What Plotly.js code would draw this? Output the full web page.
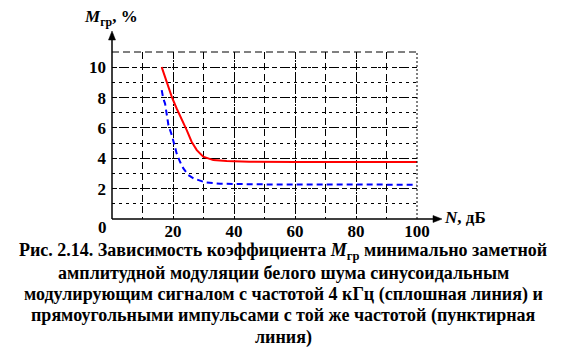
<!DOCTYPE html>
<html><head><meta charset="utf-8">
<script src="https://cdn.plot.ly/plotly-3.0.1.min.js"></script>
<style>html,body{margin:0;padding:0;background:#fff}#c{width:566px;height:361px}</style>
</head><body><div id="c"></div>
<script>
// Data
const redN = [16.3, 17.9, 19.6, 21.2, 22.8, 24.5, 26.1, 27.8, 29.9, 33.2, 37.6, 45, 60, 80, 100];
const redM = [10.0, 9.03, 8.05, 7.28, 6.62, 5.86, 5.09, 4.54, 4.1, 3.88, 3.82, 3.77, 3.75, 3.75, 3.75];
const blueN = [16.3, 16.8, 17.4, 17.9, 18.5, 19.6, 20.1, 21.2, 22.3, 23.4, 25.0, 26.7, 30.5, 35.4, 50, 70, 90, 100];
const blueM = [8.49, 7.94, 7.6, 6.84, 6.18, 5.53, 5.09, 4.32, 3.77, 3.33, 2.9, 2.68, 2.41, 2.32, 2.28, 2.26, 2.26, 2.26];
const xTicks = [20, 40, 60, 80, 100];
const yTicks = [2, 4, 6, 8, 10];
const caption = [
  'Рис. 2.14. Зависимость коэффициента <i>M</i><sub>гр</sub> минимально заметной',
  'амплитудной модуляции белого шума синусоидальным',
  'модулирующим сигналом с частотой 4 кГц (сплошная линия) и',
  'прямоугольными импульсами с той же частотой (пунктирная',
  'линия)'
];

const L = 112, R = 417, T = 52, B = 219;
const px = x => (x - L) / (R - L);
const py = y => (B - y) / (B - T);
const FAM = 'Liberation Serif';

const traces = [
  {x: redN, y: redM, mode: 'lines', line: {color: '#ff0000', width: 2}, hoverinfo: 'skip'},
  {x: blueN, y: blueM, mode: 'lines', line: {color: '#0000ff', width: 2, dash: '6px,4px'}, hoverinfo: 'skip'}
];

const ann = [];
caption.forEach((t, i) => {
  ann.push({xref: 'paper', yref: 'paper', x: px(283), y: py(251 + i * 21.5), text: '<b>' + t + '</b>',
    showarrow: false, xanchor: 'center', yanchor: 'middle', font: {family: FAM, size: 18, color: '#000'}});
});
ann.push({xref: 'paper', yref: 'paper', x: px(111), y: py(18), text: '<b><i>M</i><sub>гр</sub>, %</b>',
  showarrow: false, xanchor: 'center', yanchor: 'middle', font: {family: FAM, size: 17, color: '#000'}});
ann.push({xref: 'paper', yref: 'paper', x: px(442), y: py(217), text: '<b><i>N</i>, дБ</b>',
  showarrow: false, xanchor: 'left', yanchor: 'middle', font: {family: FAM, size: 17, color: '#000'}});
ann.push({xref: 'paper', yref: 'paper', x: px(102), y: py(227), text: '<b>0</b>',
  showarrow: false, xanchor: 'center', yanchor: 'middle', font: {family: FAM, size: 17, color: '#000'}});

const layout = {
  width: 566, height: 361,
  margin: {l: L, r: 566 - R, t: T, b: 361 - B, pad: 0},
  paper_bgcolor: '#fff', plot_bgcolor: '#fff',
  showlegend: false,
  font: {family: FAM, color: '#000'},
  xaxis: {range: [0, 100], tickvals: xTicks, ticktext: xTicks.map(v => '<b>' + v + '</b>'), showgrid: true,
    gridcolor: '#000', gridwidth: 1, griddash: '2px,2px', zeroline: false, showline: false,
    ticks: '', tickfont: {family: FAM, size: 17, color: '#000'},
    minor: {dtick: 10, tick0: 0, showgrid: true, gridcolor: '#000', gridwidth: 1, griddash: '7px,4px'},
    fixedrange: true},
  yaxis: {range: [0, 11], tickvals: yTicks, ticktext: yTicks.map(v => '<b>' + v + '</b>'), showgrid: true,
    gridcolor: '#000', gridwidth: 1, griddash: '5px,5px', zeroline: false, showline: false,
    ticks: '', ticklabelstandoff: 5, tickfont: {family: FAM, size: 17, color: '#000'},
    minor: {dtick: 1, tick0: 0, showgrid: true, gridcolor: '#000', gridwidth: 1, griddash: '3px,4px'},
    fixedrange: true},
  shapes: [
    {type: 'line', xref: 'paper', yref: 'paper', x0: 0, x1: 1, y0: 1, y1: 1, line: {color: '#000', width: 1, dash: '7px,4px'}},
    {type: 'line', xref: 'paper', yref: 'paper', x0: 1, x1: 1, y0: 0, y1: 1, line: {color: '#000', width: 1, dash: '2px,2px'}},
    {type: 'line', xref: 'paper', yref: 'paper', x0: 0, x1: 0, y0: 0, y1: py(38), line: {color: '#000', width: 1.5}},
    {type: 'line', xref: 'paper', yref: 'paper', x0: 0, x1: px(435), y0: 0, y1: 0, line: {color: '#000', width: 1.5}},
    {type: 'path', xref: 'paper', yref: 'paper',
      path: `M ${px(112)} ${py(31)} L ${px(108.5)} ${py(40)} L ${px(115.5)} ${py(40)} Z`,
      fillcolor: '#000', line: {color: '#000', width: 0.5}},
    {type: 'path', xref: 'paper', yref: 'paper',
      path: `M ${px(442)} ${py(219)} L ${px(433)} ${py(215.5)} L ${px(433)} ${py(222.5)} Z`,
      fillcolor: '#000', line: {color: '#000', width: 0.5}}
  ],
  annotations: ann
};
Plotly.newPlot('c', traces, layout, {staticPlot: true, displayModeBar: false});
</script></body></html>
